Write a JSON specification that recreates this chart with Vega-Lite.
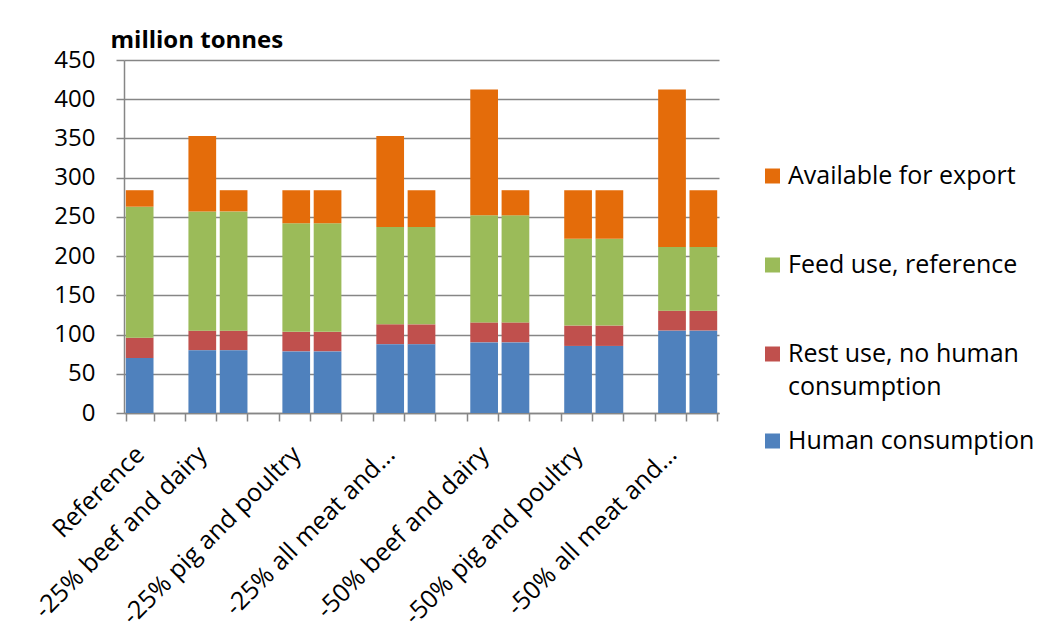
{
  "$schema": "https://vega.github.io/schema/vega-lite/v6.json",
  "width": 595,
  "height": 353,
  "autosize": {"type": "none"},
  "padding": {"left": 124, "top": 60, "right": 330, "bottom": 224},
  "background": "white",
  "config": {
    "font": "Open Sans",
    "view": {"stroke": null},
    "axis": {"labelFont": "Open Sans", "titleFont": "Open Sans", "labelColor": "#000000", "titleColor": "#000000"},
    "legend": {"labelFont": "Open Sans", "labelColor": "#000000"}
  },
  "data": {
    "values": [
      {"bar": "Reference", "Human consumption": 70, "Rest use, no human consumption": 26, "Feed use, reference": 167, "Available for export": 21},
      {"bar": "-25% beef and dairy", "Human consumption": 80, "Rest use, no human consumption": 25, "Feed use, reference": 152, "Available for export": 96},
      {"bar": "-25% beef and dairy b", "Human consumption": 80, "Rest use, no human consumption": 25, "Feed use, reference": 152, "Available for export": 27},
      {"bar": "-25% pig and poultry", "Human consumption": 78.5, "Rest use, no human consumption": 25, "Feed use, reference": 138.5, "Available for export": 42},
      {"bar": "-25% pig and poultry b", "Human consumption": 78.5, "Rest use, no human consumption": 25, "Feed use, reference": 138.5, "Available for export": 42},
      {"bar": "-25% all meat and...", "Human consumption": 87.5, "Rest use, no human consumption": 25.5, "Feed use, reference": 124, "Available for export": 116},
      {"bar": "-25% all meat and... b", "Human consumption": 87.5, "Rest use, no human consumption": 25.5, "Feed use, reference": 124, "Available for export": 47},
      {"bar": "-50% beef and dairy", "Human consumption": 90, "Rest use, no human consumption": 25.5, "Feed use, reference": 136.5, "Available for export": 160.5},
      {"bar": "-50% beef and dairy b", "Human consumption": 90, "Rest use, no human consumption": 25.5, "Feed use, reference": 136.5, "Available for export": 32},
      {"bar": "-50% pig and poultry", "Human consumption": 85.5, "Rest use, no human consumption": 26, "Feed use, reference": 110.5, "Available for export": 62},
      {"bar": "-50% pig and poultry b", "Human consumption": 85.5, "Rest use, no human consumption": 26, "Feed use, reference": 110.5, "Available for export": 62},
      {"bar": "-50% all meat and...", "Human consumption": 105, "Rest use, no human consumption": 25.5, "Feed use, reference": 81, "Available for export": 201},
      {"bar": "-50% all meat and... b", "Human consumption": 105, "Rest use, no human consumption": 25.5, "Feed use, reference": 81, "Available for export": 72.5}
    ]
  },
  "transform": [
    {"fold": ["Human consumption", "Rest use, no human consumption", "Feed use, reference", "Available for export"], "as": ["series", "value"]},
    {"calculate": "indexof(['Human consumption', 'Rest use, no human consumption', 'Feed use, reference', 'Available for export'], datum.series)", "as": "stackOrder"},
    {"stack": "value", "groupby": ["bar"], "sort": [{"field": "stackOrder", "order": "ascending"}], "as": ["v0", "v1"]}
  ],
  "encoding": {
    "x": {
      "field": "bar",
      "type": "nominal",
      "sort": null,
      "scale": {
        "domain": ["Reference", "g1", "-25% beef and dairy", "-25% beef and dairy b", "g2", "-25% pig and poultry", "-25% pig and poultry b", "g3", "-25% all meat and...", "-25% all meat and... b", "g4", "-50% beef and dairy", "-50% beef and dairy b", "g5", "-50% pig and poultry", "-50% pig and poultry b", "g6", "-50% all meat and...", "-50% all meat and... b"],
        "paddingInner": 0.115,
        "paddingOuter": 0.0575
      },
      "axis": {
        "title": null,
        "labelExpr": "test(/ b$|^g[0-9]$/, datum.value) ? '' : datum.value",
        "labelAngle": -45,
        "labelAlign": "right",
        "labelBaseline": "middle",
        "labelFontSize": 25,
        "labelPadding": 29,
        "labelOffset": 0,
        "labelLimit": 400,
        "labelOverlap": false,
        "tickBand": "extent",
        "tickSize": 8,
        "tickColor": "#868686",
        "tickWidth": 1.5,
        "domainColor": "#868686",
        "domainWidth": 1.5,
        "grid": false
      }
    },
    "y": {
      "field": "v0",
      "type": "quantitative",
      "scale": {"domain": [0, 450], "nice": false},
      "axis": {
        "values": [0, 50, 100, 150, 200, 250, 300, 350, 400, 450],
        "title": "million tonnes",
        "titleAngle": 0,
        "titleAlign": "left",
        "titleBaseline": "alphabetic",
        "titleX": -14,
        "titleY": -13,
        "titleFontSize": 24,
        "titleFontWeight": "bold",
        "labelFontSize": 24,
        "labelPadding": 21,
        "tickSize": 8,
        "tickColor": "#868686",
        "tickWidth": 1.5,
        "domainColor": "#868686",
        "domainWidth": 1.5,
        "grid": true,
        "gridColor": "#868686",
        "gridWidth": 1.5
      }
    },
    "y2": {"field": "v1"}
  },
  "layer": [
    {
      "transform": [{"filter": "datum.series != 'Human consumption'"}],
      "mark": {"type": "bar"},
      "encoding": {
        "color": {
          "field": "series",
          "type": "nominal",
          "scale": {
            "domain": ["Available for export", "Feed use, reference", "Rest use, no human consumption"],
            "range": ["#E46C0A", "#9BBB59", "#C0504D"]
          },
          "legend": {
            "title": null,
            "orient": "none",
            "legendX": 636,
            "legendY": 101,
            "symbolType": "square",
            "symbolSize": 225,
            "symbolStrokeWidth": 0,
            "labelFontSize": 25,
            "labelOffset": 3,
            "labelLimit": 400,
            "clipHeight": 30,
            "rowPadding": 59,
            "labelExpr": "datum.label == 'Rest use, no human consumption' ? ['Rest use, no human', 'consumption'] : datum.label",
            "encode": {"labels": {"update": {"lineHeight": {"value": 33}}}}
          }
        }
      }
    },
    {
      "transform": [{"filter": "datum.series == 'Human consumption'"}],
      "mark": {"type": "bar"},
      "encoding": {
        "color": {
          "field": "series",
          "type": "nominal",
          "scale": {"domain": ["Human consumption"], "range": ["#4F81BD"]},
          "legend": {
            "title": null,
            "orient": "none",
            "legendX": 636,
            "legendY": 366,
            "symbolType": "square",
            "symbolSize": 225,
            "symbolStrokeWidth": 0,
            "labelFontSize": 25,
            "labelOffset": 3,
            "labelLimit": 400,
            "clipHeight": 30
          }
        }
      }
    }
  ],
  "resolve": {"scale": {"color": "independent"}}
}
